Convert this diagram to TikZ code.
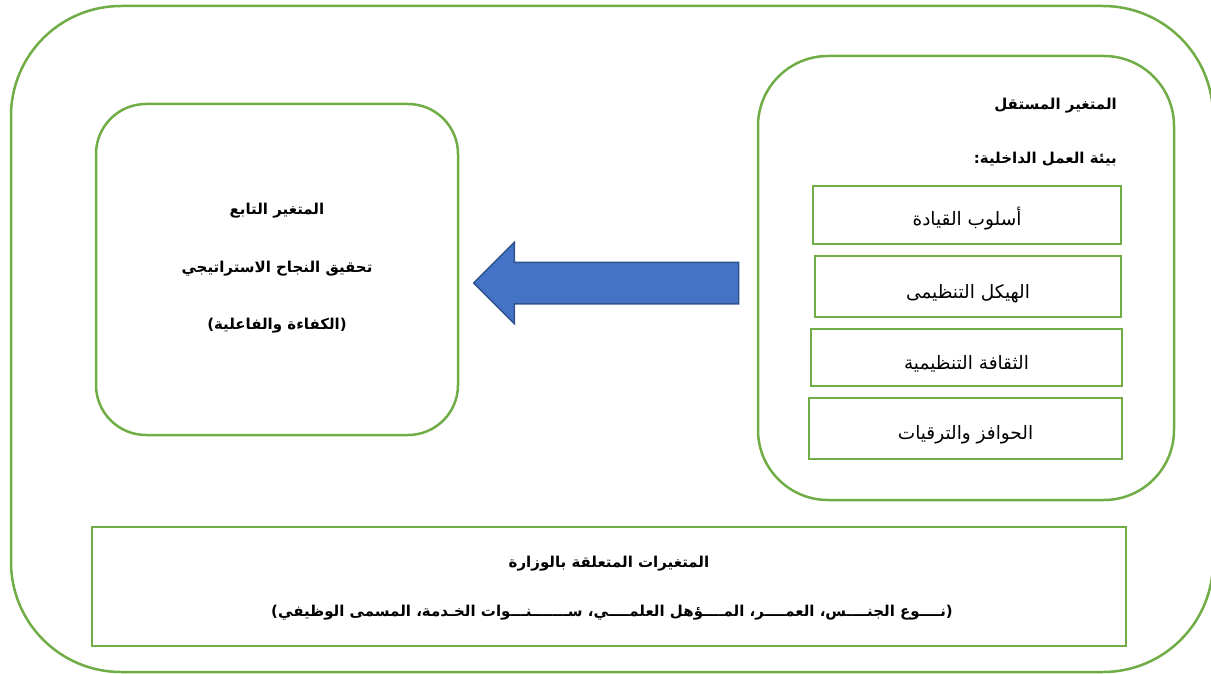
\documentclass[tikz,border=0pt]{standalone}
\usepackage{fontspec}
\newfontfamily\arabicfont[Script=Arabic]{DejaVu Sans}
\TeXXeTstate=1
\usetikzlibrary{positioning,shapes.arrows}
\definecolor{frameGreen}{HTML}{70AD47}
\definecolor{arrowBlue}{HTML}{4472C4}
\definecolor{arrowEdge}{HTML}{2F528F}

\tikzset{
  greenline/.style={draw=frameGreen, line width=2.5pt},
  roundbox/.style={greenline, rounded corners=#1, inner sep=0pt},
  itembox/.style={greenline, minimum height=58pt, inner sep=0pt,
    font=\arabicfont\fontsize{18.5}{20}\selectfont},
  titletext/.style={font=\arabicfont\bfseries\fontsize{15}{17}\selectfont, inner sep=0pt}
}
\newcommand{\itemtext}[2]{\raisebox{-#1pt}[0pt][0pt]{#2}}

\begin{document}
\begin{tikzpicture}[x=1pt,y=-1pt]
		\clip (0,0) rectangle (1211,674);

		% Outer frame
		\draw[greenline, rounded corners=110pt] (11,6) rectangle (1213,672);

		% Dependent variable
		\node[roundbox=50pt, minimum width=362pt, minimum height=331pt] (dep) at (277,269.5) {};
		\node[titletext] (depTitle) at (277,211) {\beginR المتغير التابع\endR};
		\node[titletext] (depName) at (277,269) {\beginR تحقيق النجاح الاستراتيجي\endR};
		\node[titletext] (depSub) at (277,326) {\beginR (الكفاءة والفاعلية)\endR};

		% Independent variable
		\node[roundbox=70pt, minimum width=416pt, minimum height=444pt] (indep) at (966,278) {};
		\node[titletext, anchor=east] (indepTitle) at (1117,106) {\beginR المتغير المستقل\endR};
		\node[titletext, anchor=east] (indepSub) at (1117,159) {\beginR بيئة العمل الداخلية:\endR};
		\node[itembox, minimum width=308pt] (lead) at (967,215) {\itemtext{10}{\beginR أسلوب القيادة\endR}};
		\node[itembox, minimum width=306pt, minimum height=61pt] (struct) at (968,286.5) {\itemtext{12}{\beginR الهيكل التنظيمى\endR}};
		\node[itembox, minimum width=311pt, minimum height=57pt] (culture) at (966.5,357.5) {\itemtext{12}{\beginR الثقافة التنظيمية\endR}};
		\node[itembox, minimum width=313pt, minimum height=61pt] (reward) at (965.5,428.5) {\itemtext{11}{\beginR الحوافز والترقيات\endR}};

		% Arrow
		\node[single arrow, shape border rotate=180, fill=arrowBlue, draw=arrowEdge, line width=1.5pt,
		  inner xsep=0pt, inner ysep=20pt, single arrow head extend=20pt,
		  minimum height=265pt] (effect) at (616.5,283) {};

		% Ministry variables
		\node[greenline, minimum width=1034pt, minimum height=119pt] (ministry) at (609,586.5) {};
		\node[titletext] (minTitle) at (609,564) {\beginR المتغيرات المتعلقة بالوزارة\endR};
		\node[titletext] (minList) at (612,613) {\beginR (نــــوع الجنــــس، العمــــر، المــــؤهل العلمــــي، ســـــــنـــوات الخـدمة، المسمى الوظيفي)\endR};
	\end{tikzpicture}
\end{document}
